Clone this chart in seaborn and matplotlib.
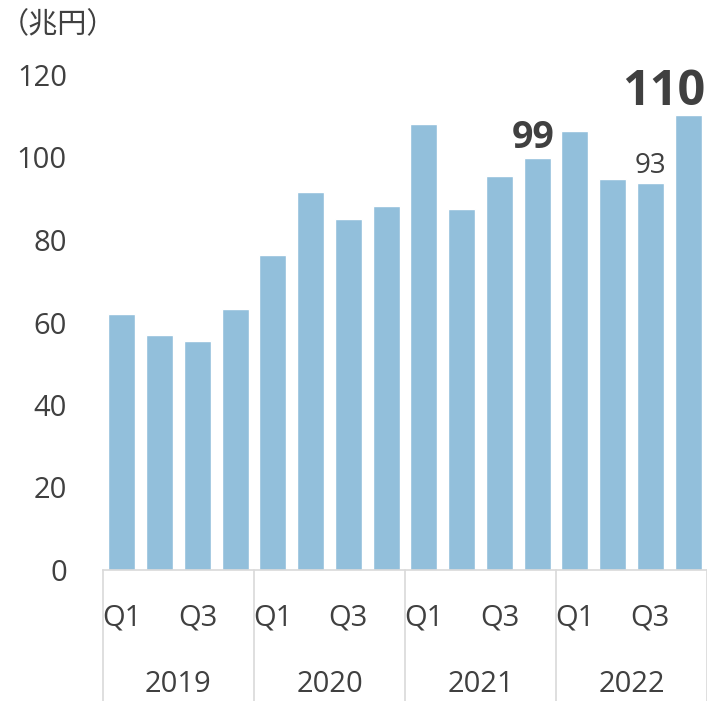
import seaborn as sns
import matplotlib.pyplot as plt
import pandas as pd

# quarterly values, trillion yen
years = ["2019", "2020", "2021", "2022"]
quarters = ["Q1", "Q2", "Q3", "Q4"]
values = [62.1, 57.0, 55.6, 63.3,
          76.4, 91.7, 85.1, 88.2,
          108.1, 87.5, 95.6, 99.8,
          106.4, 94.8, 93.8, 110.2]
shown_quarters = ["Q1", "Q3"]
yticks = [0, 20, 40, 60, 80, 100, 120]
# labelled bars: index -> (text, fontsize, weight, x shift px)
callouts = {11: ("99", 27, "bold", -4), 14: ("93", 20, "normal", 0), 15: ("110", 35, "bold", -24)}

periods = [f"{y} {q}" for y in years for q in quarters]
df = pd.DataFrame({"period": periods, "value": values})

sns.set_theme(style="white")
plt.rcParams["font.family"] = ["Open Sans", "Noto Sans CJK JP", "DejaVu Sans"]
text_col = "#404040"
line_col = "#d9d9d9"

fig = plt.figure(figsize=(7.07, 7.01), dpi=100)
ax = fig.add_axes([103 / 707, 131 / 701, 604 / 707, 495 / 701])

sns.barplot(data=df, x="period", y="value", order=periods, color="#92BFDB",
            saturation=1, width=0.715, ax=ax)

ax.set_xlim(-0.5, len(periods) - 0.5)
ax.set_ylim(0, 120)
ax.set_yticks(yticks)
ax.set_yticklabels([str(t) for t in yticks], fontsize=21, color=text_col)
ax.tick_params(axis="y", length=0, pad=26)
ax.set_xticks([])
ax.set_xlabel("")
ax.set_ylabel("")
for s in ["top", "right", "left"]:
    ax.spines[s].set_visible(False)
ax.spines["bottom"].set_color(line_col)
ax.spines["bottom"].set_linewidth(1.2)

# two-level category axis
trans = ax.get_xaxis_transform()
for yi, year in enumerate(years):
    for qi, q in enumerate(quarters):
        if q in shown_quarters:
            ax.text(yi * 4 + qi, -0.097, q, transform=trans, ha="center", va="center",
                    fontsize=21, color=text_col)
    ax.text(yi * 4 + 1.5, -0.232, year, transform=trans, ha="center", va="center",
            fontsize=21, color=text_col)
for k in range(len(years) + 1):
    ax.plot([k * 4 - 0.5, k * 4 - 0.5], [0, -0.27], transform=trans, color=line_col,
            lw=1.2, clip_on=False)

for i, (txt, fs, fw, dx) in callouts.items():
    ax.annotate(txt, (i, values[i]), xytext=(dx * 0.72, 7.5), textcoords="offset points",
                ha="center", va="baseline", fontsize=fs, fontweight=fw, color=text_col,
                annotation_clip=False)

fig.text(0.0, 1 - 25 / 701, "（兆円）", ha="left", va="center", fontsize=21,
         color=text_col, family=["Noto Sans CJK JP", "DejaVu Sans"])

fig.savefig("out.png", dpi=100)
